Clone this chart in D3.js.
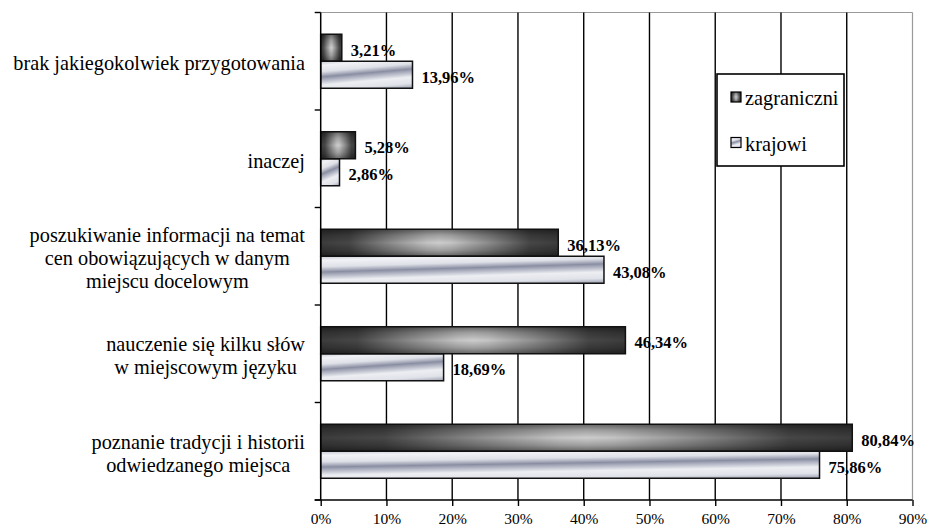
<!DOCTYPE html>
<html>
<head>
<meta charset="utf-8">
<script src="https://cdn.jsdelivr.net/npm/d3@7"></script>
<style>
  html, body { margin: 0; padding: 0; background: #fff; }
  svg { display: block; }
</style>
</head>
<body>
<svg id="chart" width="931" height="528"></svg>
<script>
// Categories, top to bottom ("\n" marks a line break in the label)
const categories = [
  "brak jakiegokolwiek przygotowania",
  "inaczej",
  "poszukiwanie informacji na temat\ncen obowiązujących w danym\nmiejscu docelowym",
  "nauczenie się kilku słów\nw miejscowym języku",
  "poznanie tradycji i historii\nodwiedzanego miejsca"
];
const seriesNames = ["zagraniczni", "krajowi"];
const zagraniczni = [3.21, 5.28, 36.13, 46.34, 80.84];
const krajowi = [13.96, 2.86, 43.08, 18.69, 75.86];
const tickValues = [0, 10, 20, 30, 40, 50, 60, 70, 80, 90];

const FONT = "'Liberation Serif', 'Times New Roman', Times, 'DejaVu Serif', serif";

const svg = d3.select("#chart").attr("font-family", FONT);
const plot = { left: 320.7, right: 912.5, top: 12.5, bottom: 500 };

const x = d3.scaleLinear().domain([0, 90]).range([plot.left, plot.right]);
const y0 = d3.scaleBand().domain(categories).range([plot.top, plot.bottom]).padding(0);
const y1 = d3.scaleBand().domain(seriesNames).range([0, y0.bandwidth()])
  .paddingInner(0).paddingOuter(0.805);

// Gradients
const defs = svg.append("defs");
// dark series: horizontal dark-light-dark ramp plus a vertical edge shade on top
const gDark = defs.append("linearGradient").attr("id", "fill-zagraniczni")
  .attr("x1", 0).attr("y1", 0).attr("x2", 1).attr("y2", 0);
[[0, "#3c3c3c"], [0.12, "#474747"], [0.3, "#8e8e8e"], [0.45, "#c4c4c4"], [0.5, "#cccccc"],
 [0.55, "#c4c4c4"], [0.7, "#8e8e8e"], [0.88, "#474747"], [1, "#3c3c3c"]].forEach(([o, c]) =>
  gDark.append("stop").attr("offset", o).attr("stop-color", c));
const gShade = defs.append("linearGradient").attr("id", "shade-v")
  .attr("x1", 0).attr("y1", 0).attr("x2", 0).attr("y2", 1);
[[0, 0.5], [0.22, 0.22], [0.5, 0], [0.78, 0.22], [1, 0.5]].forEach(([o, a]) =>
  gShade.append("stop").attr("offset", o).attr("stop-color", "#000").attr("stop-opacity", a));

const gLight = defs.append("linearGradient").attr("id", "fill-krajowi")
  .attr("x1", 0).attr("y1", 0).attr("x2", 0.36).attr("y2", 1.19);
[[0, "#c6c9d3"], [0.12, "#f1f2f6"], [0.3, "#dfe1e8"], [0.45, "#8a8ea2"],
 [0.56, "#b9bcc9"], [0.68, "#eceef2"], [0.86, "#e0e2e9"], [1, "#9ca0b0"]].forEach(([o, c]) =>
  gLight.append("stop").attr("offset", o).attr("stop-color", c));

const fills = { zagraniczni: "url(#fill-zagraniczni)", krajowi: "url(#fill-krajowi)" };
const overlays = { zagraniczni: "url(#shade-v)", krajowi: "none" };
const values = { zagraniczni, krajowi };

// Frame: top and right edges in grey
svg.append("line").attr("x1", plot.left).attr("x2", plot.right)
  .attr("y1", plot.top).attr("y2", plot.top).attr("stroke", "#9a9a9a").attr("stroke-width", 1.2);
svg.append("line").attr("x1", plot.right).attr("x2", plot.right)
  .attr("y1", plot.top).attr("y2", plot.bottom).attr("stroke", "#9a9a9a").attr("stroke-width", 1.2);

// Vertical gridlines
svg.append("g").selectAll("line")
  .data(tickValues.filter(t => t > 0 && t < 90))
  .join("line")
  .attr("x1", d => x(d)).attr("x2", d => x(d))
  .attr("y1", plot.top).attr("y2", plot.bottom)
  .attr("stroke", "#000").attr("stroke-width", 1.4);

// Bars
const groups = svg.append("g").selectAll("g")
  .data(categories)
  .join("g")
  .attr("transform", d => `translate(0,${y0(d)})`);

const barData = (d, i) => seriesNames.map(s => ({ s, v: values[s][i] }));

groups.selectAll("rect.base")
  .data(barData)
  .join("rect")
  .attr("class", "base")
  .attr("x", x(0))
  .attr("y", d => y1(d.s))
  .attr("width", d => x(d.v) - x(0))
  .attr("height", y1.bandwidth())
  .attr("fill", d => fills[d.s]);

groups.selectAll("rect.edge")
  .data(barData)
  .join("rect")
  .attr("class", "edge")
  .attr("x", x(0))
  .attr("y", d => y1(d.s))
  .attr("width", d => x(d.v) - x(0))
  .attr("height", y1.bandwidth())
  .attr("fill", d => overlays[d.s])
  .attr("stroke", "#111").attr("stroke-width", 1.5);

// Value labels
const fmt = v => v.toFixed(2).replace(".", ",") + "%";
groups.selectAll("text.value")
  .data(barData)
  .join("text")
  .attr("class", "value")
  .attr("x", d => x(d.v) + 9)
  .attr("y", d => y1(d.s) + y1.bandwidth() / 2 + 8)
  .attr("font-family", FONT)
  .attr("font-size", 16.5).attr("font-weight", "bold")
  .text(d => fmt(d.v));

// Left axis with ticks at category boundaries
svg.append("line").attr("x1", plot.left).attr("x2", plot.left)
  .attr("y1", plot.top).attr("y2", plot.bottom).attr("stroke", "#000").attr("stroke-width", 1.5);
svg.append("g").selectAll("line")
  .data(categories.map(c => y0(c)).concat([plot.bottom]))
  .join("line")
  .attr("x1", plot.left - 6).attr("x2", plot.left)
  .attr("y1", d => d).attr("y2", d => d)
  .attr("stroke", "#000").attr("stroke-width", 1.4);

// Bottom axis
const xAxis = d3.axisBottom(x).tickValues(tickValues).tickFormat(d => d + "%")
  .tickSizeInner(6).tickSizeOuter(0).tickPadding(7);
const ax = svg.append("g").attr("transform", `translate(0,${plot.bottom})`).call(xAxis)
  .attr("font-family", FONT);
ax.select(".domain").attr("stroke", "#000").attr("stroke-width", 1.5)
  .attr("d", `M${plot.left - 6},0H${plot.right}`);
ax.selectAll(".tick line").attr("stroke", "#000").attr("stroke-width", 1.4);
ax.selectAll(".tick text").attr("font-size", 15.5)
  .attr("font-family", FONT).attr("fill", "#000");

// Category labels: lines centred within a block whose right edge sits left of the axis
const labelRight = 305;
const lineH = 23;
categories.forEach(c => {
  const lines = c.split("\n");
  const g = svg.append("g");
  const texts = lines.map(ln => g.append("text")
    .attr("font-family", FONT)
    .attr("font-size", 20.3)
    .attr("text-anchor", "middle")
    .text(ln));
  const widths = texts.map(t => t.node().getComputedTextLength());
  const maxW = d3.max(widths);
  const cx = labelRight - maxW / 2;
  const centre = y0(c) + y0.bandwidth() / 2 + 3.5;
  const firstCentre = centre - (lines.length - 1) * lineH / 2;
  texts.forEach((t, i) => t.attr("x", cx).attr("y", firstCentre + i * lineH + 5.5));
});

// Legend
const legend = svg.append("g");
legend.append("rect").attr("x", 717).attr("y", 74).attr("width", 127).attr("height", 92)
  .attr("fill", "#fff").attr("stroke", "#000").attr("stroke-width", 1.6);
seriesNames.forEach((s, i) => {
  const yy = 92 + i * 45.5;
  legend.append("rect").attr("x", 731).attr("y", yy).attr("width", 10).attr("height", 10)
    .attr("fill", fills[s]);
  legend.append("rect").attr("x", 731).attr("y", yy).attr("width", 10).attr("height", 10)
    .attr("fill", overlays[s]).attr("stroke", "#000").attr("stroke-width", 1.2);
  legend.append("text").attr("x", 745).attr("y", yy + 13)
    .attr("font-family", FONT).attr("font-size", 20.3).text(s);
});
</script>
</body>
</html>
